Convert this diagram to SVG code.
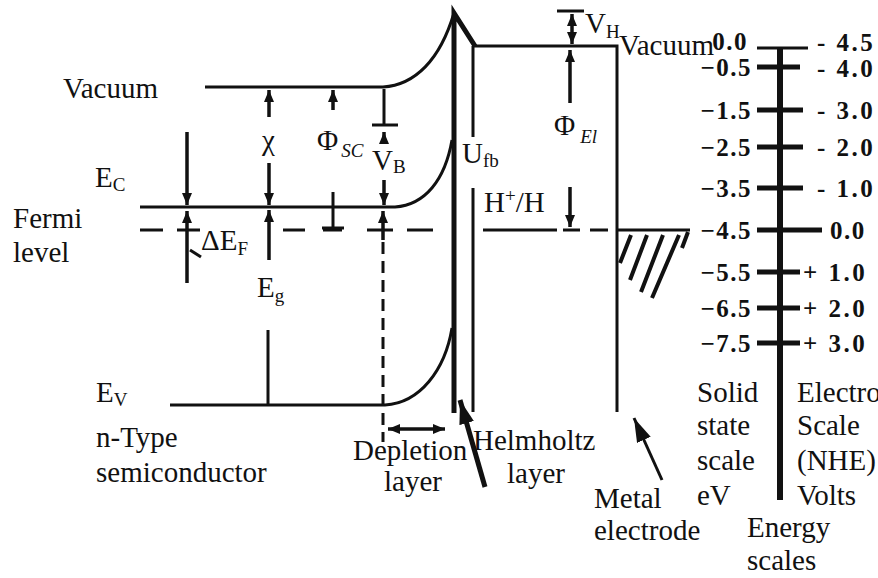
<svg xmlns="http://www.w3.org/2000/svg" width="878" height="578" viewBox="0 0 878 578">
<style>
.t{font-family:"Liberation Serif","Times New Roman",serif;font-size:29px;fill:#111}
.s{font-size:19px}
.i{font-style:italic}
.sc{font-family:"Liberation Serif","Times New Roman",serif;font-size:25px;font-weight:bold;fill:#111;letter-spacing:1.5px}
.scr{letter-spacing:2.5px}
.ln{stroke:#111;stroke-width:3;fill:none}
.th{stroke:#111;stroke-width:5;fill:none}
.ar{stroke:#111;stroke-width:3.5;fill:none;marker-end:url(#ah)}
.tk{stroke:#111;stroke-width:5}
</style>
<defs>
<marker id="ah" viewBox="0 0 12 10" refX="12" refY="5" markerWidth="12" markerHeight="10" orient="auto-start-reverse" markerUnits="userSpaceOnUse"><path d="M0,0 L12,5 L0,10 z" fill="#111"/></marker>
<marker id="ahb" viewBox="0 0 24 15" refX="24" refY="7.5" markerWidth="24" markerHeight="15" orient="auto" markerUnits="userSpaceOnUse"><path d="M0,0 L24,7.5 L0,15 z" fill="#111"/></marker>
</defs>
<rect width="878" height="578" fill="#fff"/>

<g id="bands">
<path class="ln" d="M205,87 L383,87 C415,85 440,60 454,13"/>
<path class="ln" d="M140,207 L395,207 C425,205 445,180 452,140"/>
<path class="ln" d="M170,405 L385,405 C420,403 445,370 452,328"/>
<path class="th" d="M454,413 L454,13 L475,46"/>
<path class="ln" d="M474,46 L617,46 L617,412"/>
<path class="ln" d="M473,46 L473,137 M473,188 L473,412"/>
</g>

<g id="fermi">
<path class="ln" d="M140,230 H163 M177,230 H200 M283,230 H305 M323,230 H342 M367,230 H393 M407,230 H433 M483,230 H557 M590,230 H608"/>
<path class="ln" d="M563,230 H580"/>
<path class="ln" stroke-width="4" d="M617,230 H690"/>
<path stroke="#111" stroke-width="4" d="M631,235 L620,263 M647,235 L630,280 M663,235 L641,292 M679,235 L652,298 M688,232 L682,248"/>
</g>

<g id="connectors">
<line class="ar" x1="187" y1="132" x2="187" y2="205"/>
<line class="ar" x1="187" y1="283" x2="187" y2="211"/>
<line class="ln" x1="190" y1="250" x2="201" y2="257"/>
<line class="ar" x1="269" y1="117" x2="269" y2="90"/>
<line class="ar" x1="269" y1="163" x2="269" y2="205"/>
<line class="ar" x1="269" y1="260" x2="269" y2="210"/>
<line class="ln" x1="268" y1="330" x2="268" y2="404"/>
<line class="ar" x1="333" y1="110" x2="333" y2="90"/>
<line class="ln" x1="333" y1="192" x2="333" y2="228"/>
<line class="ln" x1="322" y1="228" x2="344" y2="228"/>
<line class="ln" x1="384" y1="89" x2="384" y2="125"/>
<line class="ln" x1="372" y1="125" x2="398" y2="125"/>
<line class="ar" x1="384" y1="142" x2="384" y2="132"/>
<line class="ar" x1="384" y1="180" x2="384" y2="205"/>
<line class="ar" x1="383" y1="240" x2="383" y2="211"/>
<line class="ln" stroke-dasharray="12 7" x1="383" y1="242" x2="383" y2="442"/>
<line class="ar" style="marker-start:url(#ah)" x1="388" y1="429" x2="445" y2="429"/>
<line class="th" style="marker-end:url(#ahb)" x1="485" y1="487" x2="460" y2="400"/>
<line class="ln" stroke-width="4" style="marker-end:url(#ahb)" x1="662" y1="480" x2="634" y2="418"/>
<line class="ln" x1="557" y1="11" x2="584" y2="11"/>
<line class="ar" style="marker-start:url(#ah)" x1="572" y1="14" x2="572" y2="44"/>
<line class="ar" x1="570" y1="103" x2="570" y2="50"/>
<line class="ar" x1="570" y1="187" x2="570" y2="227"/>
</g>

<g id="labels-left">
<text class="t" x="63" y="98" font-size="31">Vacuum</text>
<text class="t" x="95" y="187">E<tspan class="s" dy="4">C</tspan></text>
<text class="t" x="13" y="228">Fermi</text>
<text class="t" x="13" y="262">level</text>
<text class="t" x="201" y="250">ΔE<tspan class="s" dy="5">F</tspan></text>
<text class="t" x="262" y="150">χ</text>
<text class="t" x="257" y="297">E<tspan class="s" dy="5">g</tspan></text>
<text class="t" x="317" y="150">Φ<tspan class="s i" dx="3" dy="7">SC</tspan></text>
<text class="t" x="372" y="170">V<tspan class="s" dy="3">B</tspan></text>
<text class="t" x="96" y="402">E<tspan class="s" dy="4">V</tspan></text>
<text class="t" x="96" y="447">n-Type</text>
<text class="t" x="96" y="482">semiconductor</text>
<text class="t" x="353" y="460">Depletion</text>
<text class="t" x="384" y="491">layer</text>
</g>

<g id="labels-right">
<text class="t" x="462" y="163">U<tspan class="s" dy="4">fb</tspan></text>
<text class="t" x="484" y="212">H<tspan class="s" dy="-10">+</tspan><tspan dy="10">/H</tspan></text>
<text class="t" x="585" y="33">V<tspan class="s" dy="5">H</tspan></text>
<text class="t" x="619" y="55">Vacuum</text>
<text class="t" x="554" y="135">Φ<tspan class="s i" dx="5" dy="8">El</tspan></text>
<text class="t" x="473" y="450">Helmholtz</text>
<text class="t" x="507" y="483">layer</text>
<text class="t" x="594" y="508">Metal</text>
<text class="t" x="594" y="540">electrode</text>
<text class="t" x="697" y="402">Solid</text>
<text class="t" x="697" y="435">state</text>
<text class="t" x="697" y="470">scale</text>
<text class="t" x="697" y="505">eV</text>
<text class="t" x="797" y="402">Electro</text>
<text class="t" x="797" y="435">Scale</text>
<text class="t" x="797" y="470">(NHE)</text>
<text class="t" x="797" y="505">Volts</text>
<text class="t" x="747" y="537">Energy</text>
<text class="t" x="747" y="570">scales</text>
</g>

<g id="energy-scale">
<line stroke="#111" stroke-width="6" x1="780" y1="47" x2="780" y2="500"/>
<line stroke="#111" stroke-width="3" x1="757" y1="48" x2="808" y2="48"/>
<line class="tk" x1="757" y1="67" x2="800" y2="67"/>
<line class="tk" x1="757" y1="110" x2="803" y2="110"/>
<line class="tk" x1="757" y1="147" x2="803" y2="147"/>
<line class="tk" x1="757" y1="188" x2="803" y2="188"/>
<line class="tk" x1="757" y1="230" x2="822" y2="230"/>
<line class="tk" x1="757" y1="272" x2="800" y2="272"/>
<line class="tk" x1="757" y1="308" x2="800" y2="308"/>
<line class="tk" x1="757" y1="343" x2="800" y2="343"/>
<g text-anchor="end">
<text class="sc" x="748" y="50">0.0</text>
<text class="sc" x="752" y="76">−0.5</text>
<text class="sc" x="752" y="119">−1.5</text>
<text class="sc" x="752" y="156">−2.5</text>
<text class="sc" x="752" y="197">−3.5</text>
<text class="sc" x="752" y="239">−4.5</text>
<text class="sc" x="752" y="281">−5.5</text>
<text class="sc" x="752" y="317">−6.5</text>
<text class="sc" x="752" y="352">−7.5</text>
</g>
<text class="sc scr" x="817" y="51">- 4.5</text>
<text class="sc scr" x="817" y="77">- 4.0</text>
<text class="sc scr" x="817" y="119">- 3.0</text>
<text class="sc scr" x="817" y="156">- 2.0</text>
<text class="sc scr" x="817" y="197">- 1.0</text>
<text class="sc" x="830" y="239">0.0</text>
<text class="sc scr" x="803" y="281">+ 1.0</text>
<text class="sc scr" x="803" y="317">+ 2.0</text>
<text class="sc scr" x="803" y="352">+ 3.0</text>
</g>
</svg>
